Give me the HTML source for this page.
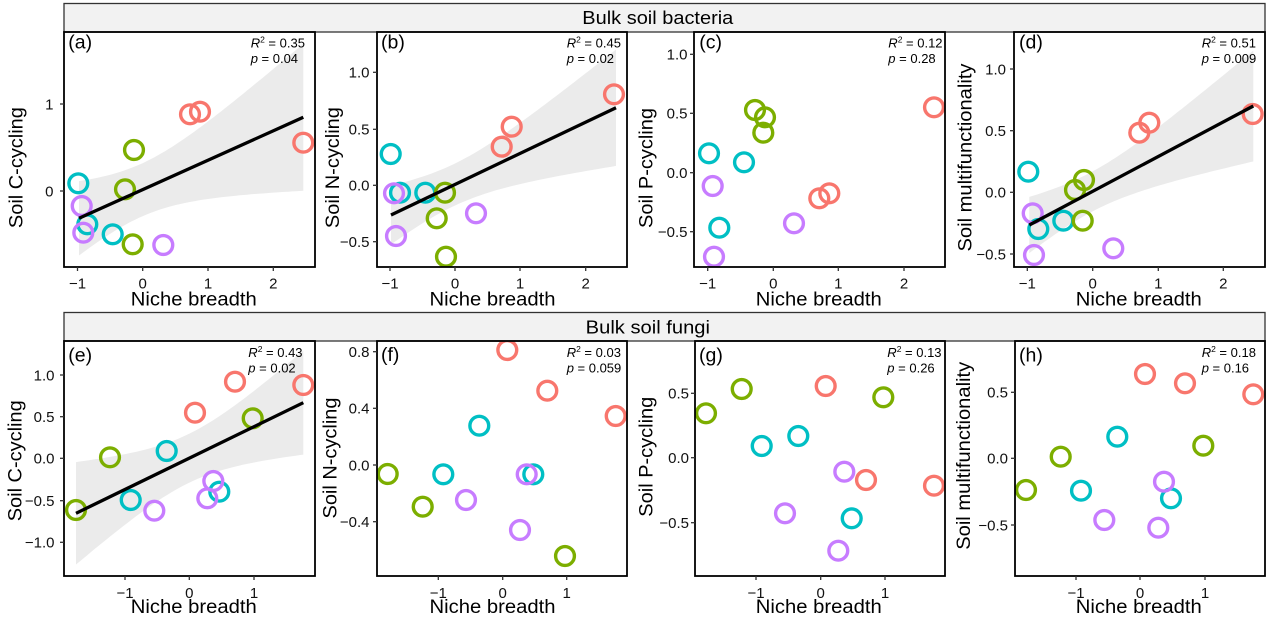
<!DOCTYPE html>
<html>
<head>
<meta charset="utf-8">
<style>
html,body{margin:0;padding:0;background:#fff;overflow:hidden;}
svg{display:block;}
.r{stroke:#F8766D}.g{stroke:#7CAE00}.c{stroke:#00BFC4}.p{stroke:#C77CFF}
.tk{stroke:#333;stroke-width:1.3}
.yl{font-size:15px;text-anchor:end;fill:#111}
.xl{font-size:15px;text-anchor:middle;fill:#111}
.bd{fill:none;stroke:#000;stroke-width:1.8}
.pts{fill:none;stroke-width:3.4}
.lab{font-size:19.5px;fill:#000}
.st{font-size:13px;fill:#000}
.band{fill:#EBEBEB}
</style>
</head>
<body>
<svg width="1269" height="620" viewBox="0 0 1269 620" font-family="'Liberation Sans', Arial, sans-serif">
<defs>
<clipPath id="ca"><rect x="64" y="32" width="251" height="235"/></clipPath>
<clipPath id="cb"><rect x="377" y="32" width="250" height="235"/></clipPath>
<clipPath id="cc"><rect x="694" y="32" width="251" height="235"/></clipPath>
<clipPath id="cd"><rect x="1014" y="32" width="251" height="235"/></clipPath>
<clipPath id="ce"><rect x="64" y="341" width="251" height="235"/></clipPath>
<clipPath id="cf"><rect x="377" y="341" width="250" height="235"/></clipPath>
<clipPath id="cg"><rect x="695" y="341" width="250" height="235"/></clipPath>
<clipPath id="ch"><rect x="1015" y="341" width="250" height="235"/></clipPath>
</defs>
<rect width="1269" height="620" fill="#fff"/>

<!-- strips -->
<rect x="64" y="3.5" width="1201" height="28.5" fill="#F2F2F2" stroke="#333" stroke-width="1.3"/>
<text x="582.3" y="24" font-size="18.5" textLength="151" lengthAdjust="spacingAndGlyphs" fill="#000">Bulk soil bacteria</text>
<rect x="64" y="312.5" width="1201" height="28.5" fill="#F2F2F2" stroke="#333" stroke-width="1.3"/>
<text x="585.7" y="333.3" font-size="18.5" textLength="124.3" lengthAdjust="spacingAndGlyphs" fill="#000">Bulk soil fungi</text>

<!-- Panel a -->
<path id="ba" class="band" clip-path="url(#ca)" d=""/>
<g class="pts" clip-path="url(#ca)">
<circle cx="78.3" cy="183.3" r="9.4" class="c"/>
<circle cx="87.3" cy="224.3" r="9.4" class="c"/>
<circle cx="112.7" cy="234.3" r="9.4" class="c"/>
<circle cx="81.7" cy="206" r="9.4" class="p"/>
<circle cx="83.3" cy="232.7" r="9.4" class="p"/>
<circle cx="163.3" cy="245" r="9.4" class="p"/>
<circle cx="134" cy="150" r="9.4" class="g"/>
<circle cx="125" cy="189.3" r="9.4" class="g"/>
<circle cx="132.7" cy="244.3" r="9.4" class="g"/>
<circle cx="190" cy="114.3" r="9.4" class="r"/>
<circle cx="200" cy="111.7" r="9.4" class="r"/>
<circle cx="303.3" cy="142.7" r="9.4" class="r"/>
</g>
<line x1="79" y1="218.3" x2="303.3" y2="117.3" stroke="#000" stroke-width="3.3"/>
<rect x="64" y="32" width="251" height="235" class="bd"/>
<line x1="60" y1="104" x2="64" y2="104" class="tk"/><line x1="60" y1="191" x2="64" y2="191" class="tk"/>
<text x="53.5" y="109.3" class="yl">1</text><text x="53.5" y="196.3" class="yl">0</text>
<line x1="77.5" y1="267" x2="77.5" y2="271" class="tk"/><line x1="142.7" y1="267" x2="142.7" y2="271" class="tk"/><line x1="208" y1="267" x2="208" y2="271" class="tk"/><line x1="273.3" y1="267" x2="273.3" y2="271" class="tk"/>
<text x="77.5" y="288.5" class="xl">−1</text><text x="142.7" y="288.5" class="xl">0</text><text x="208" y="288.5" class="xl">1</text><text x="273.3" y="288.5" class="xl">2</text>
<text x="68.3" y="48.3" class="lab">(a)</text>
<text x="250.7" y="47.5" class="st"><tspan font-style="italic">R</tspan><tspan dy="-5" font-size="8.5">2</tspan><tspan dy="5"> = 0.35</tspan></text>
<text x="250.7" y="63" class="st"><tspan font-style="italic">p</tspan> = 0.04</text>
<text transform="translate(22.7,167.6) rotate(-90)" text-anchor="middle" font-size="19.5" textLength="121" lengthAdjust="spacingAndGlyphs">Soil C-cycling</text>
<text x="193.8" y="305.7" text-anchor="middle" font-size="19" textLength="126" lengthAdjust="spacingAndGlyphs">Niche breadth</text>

<!-- Panel b -->
<path id="bb" class="band" clip-path="url(#cb)" d=""/>
<g class="pts" clip-path="url(#cb)">
<circle cx="390.7" cy="154" r="9.4" class="c"/>
<circle cx="400" cy="192.7" r="9.4" class="c"/>
<circle cx="425.3" cy="192.7" r="9.4" class="c"/>
<circle cx="394" cy="193.3" r="9.4" class="p"/>
<circle cx="396" cy="236" r="9.4" class="p"/>
<circle cx="476" cy="213.3" r="9.4" class="p"/>
<circle cx="445" cy="192.7" r="9.4" class="g"/>
<circle cx="436.7" cy="218.3" r="9.4" class="g"/>
<circle cx="446" cy="256.7" r="9.4" class="g"/>
<circle cx="614" cy="94.3" r="9.4" class="r"/>
<circle cx="511.7" cy="126.7" r="9.4" class="r"/>
<circle cx="501.7" cy="146.7" r="9.4" class="r"/>
</g>
<line x1="391" y1="215" x2="616" y2="107.7" stroke="#000" stroke-width="3.3"/>
<rect x="377" y="32" width="250" height="235" class="bd"/>
<line x1="373" y1="72.3" x2="377" y2="72.3" class="tk"/><line x1="373" y1="129.3" x2="377" y2="129.3" class="tk"/><line x1="373" y1="185.3" x2="377" y2="185.3" class="tk"/><line x1="373" y1="241.7" x2="377" y2="241.7" class="tk"/>
<text x="369.5" y="77.6" class="yl">1.0</text><text x="369.5" y="134.6" class="yl">0.5</text><text x="369.5" y="190.6" class="yl">0.0</text><text x="369.5" y="247" class="yl">−0.5</text>
<line x1="390" y1="267" x2="390" y2="271" class="tk"/><line x1="455" y1="267" x2="455" y2="271" class="tk"/><line x1="520" y1="267" x2="520" y2="271" class="tk"/><line x1="585.7" y1="267" x2="585.7" y2="271" class="tk"/>
<text x="390" y="288.5" class="xl">−1</text><text x="455" y="288.5" class="xl">0</text><text x="520" y="288.5" class="xl">1</text><text x="585.7" y="288.5" class="xl">2</text>
<text x="381" y="48.3" class="lab">(b)</text>
<text x="566.7" y="47.5" class="st"><tspan font-style="italic">R</tspan><tspan dy="-5" font-size="8.5">2</tspan><tspan dy="5"> = 0.45</tspan></text>
<text x="566.7" y="63" class="st"><tspan font-style="italic">p</tspan> = 0.02</text>
<text transform="translate(339,167.6) rotate(-90)" text-anchor="middle" font-size="19.5" textLength="121" lengthAdjust="spacingAndGlyphs">Soil N-cycling</text>
<text x="492.5" y="305.7" text-anchor="middle" font-size="19" textLength="126" lengthAdjust="spacingAndGlyphs">Niche breadth</text>

<!-- Panel c -->
<g class="pts" clip-path="url(#cc)">
<circle cx="709" cy="153.3" r="9.4" class="c"/>
<circle cx="744" cy="162.3" r="9.4" class="c"/>
<circle cx="719.3" cy="227.7" r="9.4" class="c"/>
<circle cx="712.7" cy="186" r="9.4" class="p"/>
<circle cx="714" cy="256.7" r="9.4" class="p"/>
<circle cx="794" cy="223.3" r="9.4" class="p"/>
<circle cx="755" cy="110" r="9.4" class="g"/>
<circle cx="765" cy="117.3" r="9.4" class="g"/>
<circle cx="763.3" cy="132.7" r="9.4" class="g"/>
<circle cx="934" cy="107.3" r="9.4" class="r"/>
<circle cx="819.3" cy="198.3" r="9.4" class="r"/>
<circle cx="829.3" cy="193.3" r="9.4" class="r"/>
</g>
<rect x="694" y="32" width="251" height="235" class="bd"/>
<line x1="690" y1="54.3" x2="694" y2="54.3" class="tk"/><line x1="690" y1="113.3" x2="694" y2="113.3" class="tk"/><line x1="690" y1="172.7" x2="694" y2="172.7" class="tk"/><line x1="690" y1="231.7" x2="694" y2="231.7" class="tk"/>
<text x="687.5" y="59.6" class="yl">1.0</text><text x="687.5" y="118.6" class="yl">0.5</text><text x="687.5" y="178" class="yl">0.0</text><text x="687.5" y="237" class="yl">−0.5</text>
<line x1="707.7" y1="267" x2="707.7" y2="271" class="tk"/><line x1="773.3" y1="267" x2="773.3" y2="271" class="tk"/><line x1="838.3" y1="267" x2="838.3" y2="271" class="tk"/><line x1="904" y1="267" x2="904" y2="271" class="tk"/>
<text x="707.7" y="288.5" class="xl">−1</text><text x="773.3" y="288.5" class="xl">0</text><text x="838.3" y="288.5" class="xl">1</text><text x="904" y="288.5" class="xl">2</text>
<text x="699.3" y="48.3" class="lab">(c)</text>
<text x="888.3" y="47.5" class="st"><tspan font-style="italic">R</tspan><tspan dy="-5" font-size="8.5">2</tspan><tspan dy="5"> = 0.12</tspan></text>
<text x="888.3" y="63" class="st"><tspan font-style="italic">p</tspan> = 0.28</text>
<text transform="translate(652.7,168) rotate(-90)" text-anchor="middle" font-size="19.5" textLength="120" lengthAdjust="spacingAndGlyphs">Soil P-cycling</text>
<text x="818.8" y="305.7" text-anchor="middle" font-size="19" textLength="126" lengthAdjust="spacingAndGlyphs">Niche breadth</text>

<!-- Panel d -->
<path id="bd" class="band" clip-path="url(#cd)" d=""/>
<g class="pts" clip-path="url(#cd)">
<circle cx="1028.3" cy="171.7" r="9.4" class="c"/>
<circle cx="1038.3" cy="229" r="9.4" class="c"/>
<circle cx="1063.3" cy="220.7" r="9.4" class="c"/>
<circle cx="1032.7" cy="213.3" r="9.4" class="p"/>
<circle cx="1034" cy="255" r="9.4" class="p"/>
<circle cx="1113.3" cy="248.3" r="9.4" class="p"/>
<circle cx="1084" cy="180" r="9.4" class="g"/>
<circle cx="1075" cy="190" r="9.4" class="g"/>
<circle cx="1082.7" cy="220.7" r="9.4" class="g"/>
<circle cx="1252.7" cy="114" r="9.4" class="r"/>
<circle cx="1149.3" cy="122.7" r="9.4" class="r"/>
<circle cx="1139.3" cy="132.7" r="9.4" class="r"/>
</g>
<line x1="1029.3" y1="225" x2="1253.3" y2="106" stroke="#000" stroke-width="3.3"/>
<rect x="1014" y="32" width="251" height="235" class="bd"/>
<line x1="1010" y1="69" x2="1014" y2="69" class="tk"/><line x1="1010" y1="130.7" x2="1014" y2="130.7" class="tk"/><line x1="1010" y1="192.3" x2="1014" y2="192.3" class="tk"/><line x1="1010" y1="254" x2="1014" y2="254" class="tk"/>
<text x="1006" y="74.3" class="yl">1.0</text><text x="1006" y="136" class="yl">0.5</text><text x="1006" y="197.6" class="yl">0.0</text><text x="1006" y="259.3" class="yl">−0.5</text>
<line x1="1027.3" y1="267" x2="1027.3" y2="271" class="tk"/><line x1="1092.7" y1="267" x2="1092.7" y2="271" class="tk"/><line x1="1158.3" y1="267" x2="1158.3" y2="271" class="tk"/><line x1="1223.3" y1="267" x2="1223.3" y2="271" class="tk"/>
<text x="1027.3" y="288.5" class="xl">−1</text><text x="1092.7" y="288.5" class="xl">0</text><text x="1158.3" y="288.5" class="xl">1</text><text x="1223.3" y="288.5" class="xl">2</text>
<text x="1019" y="48.3" class="lab">(d)</text>
<text x="1201.7" y="47.5" class="st"><tspan font-style="italic">R</tspan><tspan dy="-5" font-size="8.5">2</tspan><tspan dy="5"> = 0.51</tspan></text>
<text x="1201.7" y="63" class="st"><tspan font-style="italic">p</tspan> = 0.009</text>
<text transform="translate(971.5,157.5) rotate(-90)" text-anchor="middle" font-size="19.5" textLength="188" lengthAdjust="spacingAndGlyphs">Soil multifunctionality</text>
<text x="1138.8" y="305.7" text-anchor="middle" font-size="19" textLength="126" lengthAdjust="spacingAndGlyphs">Niche breadth</text>

<!-- Panel e -->
<path id="be" class="band" clip-path="url(#ce)" d=""/>
<g class="pts" clip-path="url(#ce)">
<circle cx="166.7" cy="451" r="9.4" class="c"/>
<circle cx="130.7" cy="500" r="9.4" class="c"/>
<circle cx="219.3" cy="491.7" r="9.4" class="c"/>
<circle cx="213.3" cy="481" r="9.4" class="p"/>
<circle cx="207.3" cy="498.3" r="9.4" class="p"/>
<circle cx="154.3" cy="510.7" r="9.4" class="p"/>
<circle cx="252.7" cy="418.3" r="9.4" class="g"/>
<circle cx="110" cy="457.3" r="9.4" class="g"/>
<circle cx="76" cy="510" r="9.4" class="g"/>
<circle cx="303.3" cy="385" r="9.4" class="r"/>
<circle cx="235" cy="381.7" r="9.4" class="r"/>
<circle cx="195" cy="412.7" r="9.4" class="r"/>
</g>
<line x1="76" y1="513.3" x2="303.3" y2="402.7" stroke="#000" stroke-width="3.3"/>
<rect x="64" y="341" width="251" height="235" class="bd"/>
<line x1="60" y1="375" x2="64" y2="375" class="tk"/><line x1="60" y1="416.7" x2="64" y2="416.7" class="tk"/><line x1="60" y1="458.3" x2="64" y2="458.3" class="tk"/><line x1="60" y1="500.7" x2="64" y2="500.7" class="tk"/><line x1="60" y1="542.3" x2="64" y2="542.3" class="tk"/>
<text x="54.5" y="380.3" class="yl">1.0</text><text x="54.5" y="422" class="yl">0.5</text><text x="54.5" y="463.6" class="yl">0.0</text><text x="54.5" y="506" class="yl">−0.5</text><text x="54.5" y="547.6" class="yl">−1.0</text>
<line x1="125" y1="576" x2="125" y2="580" class="tk"/><line x1="189.3" y1="576" x2="189.3" y2="580" class="tk"/><line x1="254" y1="576" x2="254" y2="580" class="tk"/>
<text x="125" y="598" class="xl">−1</text><text x="189.3" y="598" class="xl">0</text><text x="254" y="598" class="xl">1</text>
<text x="68.3" y="361.7" class="lab">(e)</text>
<text x="248.3" y="357" class="st"><tspan font-style="italic">R</tspan><tspan dy="-5" font-size="8.5">2</tspan><tspan dy="5"> = 0.43</tspan></text>
<text x="248.3" y="372.5" class="st"><tspan font-style="italic">p</tspan> = 0.02</text>
<text transform="translate(21.7,460.8) rotate(-90)" text-anchor="middle" font-size="19.5" textLength="121" lengthAdjust="spacingAndGlyphs">Soil C-cycling</text>
<text x="193.8" y="613" text-anchor="middle" font-size="19" textLength="126" lengthAdjust="spacingAndGlyphs">Niche breadth</text>

<!-- Panel f -->
<g class="pts" clip-path="url(#cf)">
<circle cx="479.3" cy="425.7" r="9.4" class="c"/>
<circle cx="443.3" cy="474.3" r="9.4" class="c"/>
<circle cx="533.3" cy="474.3" r="9.4" class="c"/>
<circle cx="526.7" cy="474.3" r="9.4" class="p"/>
<circle cx="466" cy="500" r="9.4" class="p"/>
<circle cx="520" cy="530" r="9.4" class="p"/>
<circle cx="387.7" cy="474" r="9.4" class="g"/>
<circle cx="422.7" cy="506.7" r="9.4" class="g"/>
<circle cx="565" cy="556" r="9.4" class="g"/>
<circle cx="507.3" cy="350" r="9.4" class="r"/>
<circle cx="547.3" cy="390.7" r="9.4" class="r"/>
<circle cx="615.7" cy="416" r="9.4" class="r"/>
</g>
<rect x="377" y="341" width="250" height="235" class="bd"/>
<line x1="373" y1="351.7" x2="377" y2="351.7" class="tk"/><line x1="373" y1="408.3" x2="377" y2="408.3" class="tk"/><line x1="373" y1="465" x2="377" y2="465" class="tk"/><line x1="373" y1="521.7" x2="377" y2="521.7" class="tk"/>
<text x="369.5" y="357" class="yl">0.8</text><text x="369.5" y="413.6" class="yl">0.4</text><text x="369.5" y="470.3" class="yl">0.0</text><text x="369.5" y="527" class="yl">−0.4</text>
<line x1="438.3" y1="576" x2="438.3" y2="580" class="tk"/><line x1="502.7" y1="576" x2="502.7" y2="580" class="tk"/><line x1="566.7" y1="576" x2="566.7" y2="580" class="tk"/>
<text x="438.3" y="598" class="xl">−1</text><text x="502.7" y="598" class="xl">0</text><text x="566.7" y="598" class="xl">1</text>
<text x="381" y="361" class="lab">(f)</text>
<text x="566.7" y="357" class="st"><tspan font-style="italic">R</tspan><tspan dy="-5" font-size="8.5">2</tspan><tspan dy="5"> = 0.03</tspan></text>
<text x="566.7" y="372.5" class="st"><tspan font-style="italic">p</tspan> = 0.059</text>
<text transform="translate(336.7,458) rotate(-90)" text-anchor="middle" font-size="19.5" textLength="121" lengthAdjust="spacingAndGlyphs">Soil N-cycling</text>
<text x="492.5" y="613" text-anchor="middle" font-size="19" textLength="126" lengthAdjust="spacingAndGlyphs">Niche breadth</text>

<!-- Panel g -->
<g class="pts" clip-path="url(#cg)">
<circle cx="798.3" cy="436" r="9.4" class="c"/>
<circle cx="761.7" cy="446" r="9.4" class="c"/>
<circle cx="851.7" cy="518.3" r="9.4" class="c"/>
<circle cx="844.3" cy="471.7" r="9.4" class="p"/>
<circle cx="785" cy="513.3" r="9.4" class="p"/>
<circle cx="838.3" cy="550.7" r="9.4" class="p"/>
<circle cx="741.7" cy="389" r="9.4" class="g"/>
<circle cx="706" cy="413.3" r="9.4" class="g"/>
<circle cx="883.3" cy="397.3" r="9.4" class="g"/>
<circle cx="825.7" cy="386" r="9.4" class="r"/>
<circle cx="866" cy="480" r="9.4" class="r"/>
<circle cx="934" cy="485.7" r="9.4" class="r"/>
</g>
<rect x="695" y="341" width="250" height="235" class="bd"/>
<line x1="691" y1="393.3" x2="695" y2="393.3" class="tk"/><line x1="691" y1="457.7" x2="695" y2="457.7" class="tk"/><line x1="691" y1="522.7" x2="695" y2="522.7" class="tk"/>
<text x="689" y="398.6" class="yl">0.5</text><text x="689" y="463" class="yl">0.0</text><text x="689" y="528" class="yl">−0.5</text>
<line x1="756" y1="576" x2="756" y2="580" class="tk"/><line x1="820.7" y1="576" x2="820.7" y2="580" class="tk"/><line x1="885" y1="576" x2="885" y2="580" class="tk"/>
<text x="756" y="598" class="xl">−1</text><text x="820.7" y="598" class="xl">0</text><text x="885" y="598" class="xl">1</text>
<text x="699" y="361.7" class="lab">(g)</text>
<text x="887.3" y="357" class="st"><tspan font-style="italic">R</tspan><tspan dy="-5" font-size="8.5">2</tspan><tspan dy="5"> = 0.13</tspan></text>
<text x="887.3" y="372.5" class="st"><tspan font-style="italic">p</tspan> = 0.26</text>
<text transform="translate(652.7,456.7) rotate(-90)" text-anchor="middle" font-size="19.5" textLength="120" lengthAdjust="spacingAndGlyphs">Soil P-cycling</text>
<text x="818.8" y="613" text-anchor="middle" font-size="19" textLength="126" lengthAdjust="spacingAndGlyphs">Niche breadth</text>

<!-- Panel h -->
<g class="pts" clip-path="url(#ch)">
<circle cx="1117.3" cy="436.7" r="9.4" class="c"/>
<circle cx="1081" cy="490.7" r="9.4" class="c"/>
<circle cx="1171" cy="498.3" r="9.4" class="c"/>
<circle cx="1164" cy="481.7" r="9.4" class="p"/>
<circle cx="1104.3" cy="520" r="9.4" class="p"/>
<circle cx="1158.3" cy="527.7" r="9.4" class="p"/>
<circle cx="1203.3" cy="445.7" r="9.4" class="g"/>
<circle cx="1060.7" cy="456.7" r="9.4" class="g"/>
<circle cx="1026" cy="490" r="9.4" class="g"/>
<circle cx="1145" cy="374" r="9.4" class="r"/>
<circle cx="1185" cy="383.3" r="9.4" class="r"/>
<circle cx="1253.3" cy="394.3" r="9.4" class="r"/>
</g>
<rect x="1015" y="341" width="250" height="235" class="bd"/>
<line x1="1011" y1="392.3" x2="1015" y2="392.3" class="tk"/><line x1="1011" y1="458.3" x2="1015" y2="458.3" class="tk"/><line x1="1011" y1="525" x2="1015" y2="525" class="tk"/>
<text x="1008" y="397.6" class="yl">0.5</text><text x="1008" y="463.6" class="yl">0.0</text><text x="1008" y="530.3" class="yl">−0.5</text>
<line x1="1076" y1="576" x2="1076" y2="580" class="tk"/><line x1="1140" y1="576" x2="1140" y2="580" class="tk"/><line x1="1205" y1="576" x2="1205" y2="580" class="tk"/>
<text x="1076" y="598" class="xl">−1</text><text x="1140" y="598" class="xl">0</text><text x="1205" y="598" class="xl">1</text>
<text x="1019" y="361.7" class="lab">(h)</text>
<text x="1201.7" y="357" class="st"><tspan font-style="italic">R</tspan><tspan dy="-5" font-size="8.5">2</tspan><tspan dy="5"> = 0.18</tspan></text>
<text x="1201.7" y="372.5" class="st"><tspan font-style="italic">p</tspan> = 0.16</text>
<text transform="translate(970,455.8) rotate(-90)" text-anchor="middle" font-size="19.5" textLength="188" lengthAdjust="spacingAndGlyphs">Soil multifunctionality</text>
<text x="1138.8" y="613" text-anchor="middle" font-size="19" textLength="126" lengthAdjust="spacingAndGlyphs">Niche breadth</text>
</svg>
<script>
function band(id,xL,xR,yL,yR,uL,uR,mean,Sxx,h0){
  var n=12,up=[],lo=[],N=60;
  for(var i=0;i<=N;i++){
    var t=i/N,u=uL+t*(uR-uL),x=xL+t*(xR-xL),y=yL+t*(yR-yL);
    var h=h0*Math.sqrt(1+n*(u-mean)*(u-mean)/Sxx);
    up.push(x.toFixed(1)+','+(y-h).toFixed(1));
    lo.push(x.toFixed(1)+','+(y+h).toFixed(1));
  }
  lo.reverse();
  document.getElementById(id).setAttribute('d','M'+up.join('L')+'L'+lo.join('L')+'Z');
}
band('ba',79,303.3,218.3,117.3,-0.96,2.47,-0.014,11.07,26.5);
band('bb',391,616,215,107.7,-0.96,2.47,-0.014,11.07,21);
band('bd',1029.3,1253.3,225,106,-0.96,2.47,-0.014,11.07,20);
band('be',76,303.3,513.3,402.7,-1.76,1.77,-0.01,10.89,24.5);
</script>
</body>
</html>
